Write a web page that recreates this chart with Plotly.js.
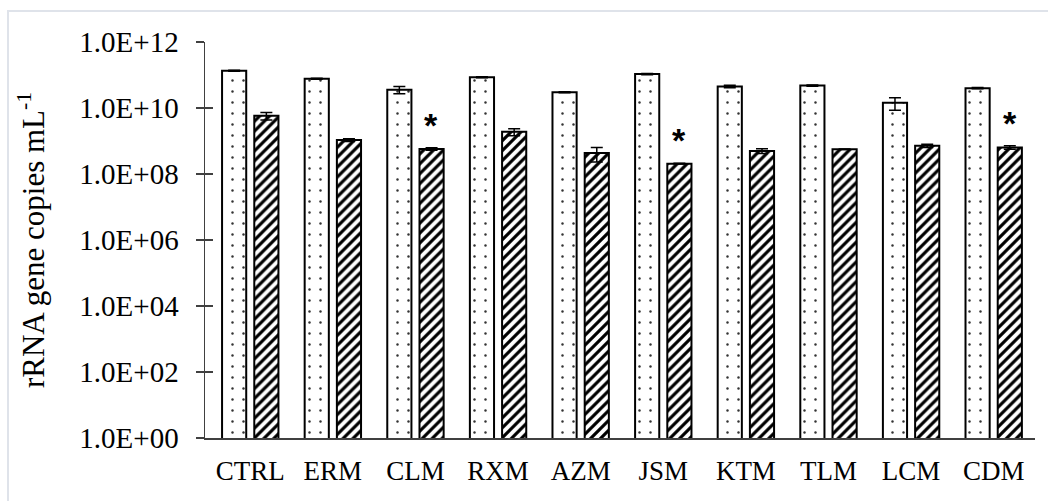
<!DOCTYPE html>
<html>
<head>
<meta charset="utf-8">
<script src="https://cdn.plot.ly/plotly-3.0.1.min.js"></script>
<style>
  html, body { margin: 0; padding: 0; background: #ffffff; overflow: hidden; }
  #chart { position: absolute; left: 0; top: 0; width: 1048px; height: 501px; }
  #frame { position: absolute; left: 7px; top: 10px; width: 1100px; height: 600px;
           border-left: 2px solid #dfe3ea; border-top: 2px solid #dfe3ea; pointer-events: none; }
</style>
</head>
<body>
<div id="chart"></div>
<div id="frame"></div>
<script>
// Treatments along the x axis
const categories = ['CTRL', 'ERM', 'CLM', 'RXM', 'AZM', 'JSM', 'KTM', 'TLM', 'LCM', 'CDM'];

// First series (dotted bars) and its error
const dottedValues = [1.35e11, 7.7e10, 3.6e10, 8.5e10, 3.0e10, 1.07e11, 4.5e10, 4.8e10, 1.45e10, 4.0e10];
const dottedErrors = [4e9, 3e9, 9e9, 3e9, 1e9, 5e9, 4e9, 2e9, 6e9, 2e9];

// Second series (hatched bars) and its error
const hatchedValues = [5.8e9, 1.07e9, 5.7e8, 1.9e9, 4.3e8, 2.05e8, 5.0e8, 5.6e8, 7.2e8, 6.4e8];
const hatchedErrors = [1.5e9, 1e8, 5e7, 4.5e8, 2e8, 5e6, 8e7, 1e7, 8e7, 8e7];

// Treatments marked as significant in the second series
const significant = ['CLM', 'JSM', 'CDM'];

// Log axis ticks
const yTickVals = [1e0, 1e2, 1e4, 1e6, 1e8, 1e10, 1e12];
const yTickText = ['1.0E+00', '1.0E+02', '1.0E+04', '1.0E+06', '1.0E+08', '1.0E+10', '1.0E+12'];

const serif = 'Liberation Serif, Times New Roman, serif';

const errStyle = { type: 'data', visible: true, color: '#000000', thickness: 1.5, width: 6 };

const traces = [
  {
    type: 'bar', x: categories, y: dottedValues,
    error_y: Object.assign({ array: dottedErrors }, errStyle),
    marker: {
      color: '#ffffff',
      line: { color: '#000000', width: 2 },
      pattern: { shape: '.', fgcolor: '#333333', bgcolor: '#ffffff', size: 11, solidity: 0.04 }
    },
    hoverinfo: 'x+y', showlegend: false
  },
  {
    type: 'bar', x: categories, y: hatchedValues,
    error_y: Object.assign({ array: hatchedErrors }, errStyle),
    marker: {
      color: '#ffffff',
      line: { color: '#000000', width: 2 },
      pattern: { shape: '/', fgcolor: '#000000', bgcolor: '#ffffff', size: 7, solidity: 0.45 }
    },
    hoverinfo: 'x+y', showlegend: false
  },
  // carries the overlaid axis that draws the inner halves of the y ticks
  {
    type: 'scatter', mode: 'markers', x: [categories[0]], y: [1], yaxis: 'y2',
    marker: { opacity: 0 }, hoverinfo: 'skip', showlegend: false
  }
];

const annotations = significant.map(function (cat) {
  const i = categories.indexOf(cat);
  return {
    x: cat, xref: 'x', yref: 'y',
    y: Math.log10(hatchedValues[i] + hatchedErrors[i]),
    text: '<b>*</b>', showarrow: false,
    xanchor: 'center', yanchor: 'bottom', xshift: 16, yshift: 2,
    font: { family: 'Liberation Sans, Arial, sans-serif', size: 34, color: '#000000' }
  };
});

const layout = {
  width: 1048, height: 501,
  margin: { l: 205, r: 13, t: 42, b: 63, autoexpand: false },
  paper_bgcolor: 'rgba(0,0,0,0)', plot_bgcolor: 'rgba(0,0,0,0)',
  barmode: 'group', bargap: 0.22, bargroupgap: 0.25,
  font: { family: serif, size: 27, color: '#000000' },
  xaxis: {
    type: 'category', showgrid: false, zeroline: false, automargin: false,
    showline: true, linecolor: '#404040', linewidth: 1.5,
    ticks: '', tickfont: { family: serif, size: 27, color: '#000000' },
    ticklabelstandoff: 8
  },
  yaxis: {
    type: 'log', range: [0, 12], showgrid: false, zeroline: false, automargin: false,
    showline: true, linecolor: '#404040', linewidth: 1.5,
    ticks: 'outside', ticklen: 8, tickwidth: 1.5, tickcolor: '#404040',
    tickvals: yTickVals, ticktext: yTickText,
    tickfont: { family: serif, size: 29, color: '#000000' },
    ticklabelstandoff: 11,
    title: { text: 'rRNA gene copies mL<sup>-1</sup>', font: { family: serif, size: 31, color: '#000000' }, standoff: 25 }
  },
  yaxis2: {
    type: 'log', range: [0, 12], overlaying: 'y', side: 'left', automargin: false,
    showgrid: false, zeroline: false, showline: false, showticklabels: false,
    ticks: 'inside', ticklen: 8, tickwidth: 1.5, tickcolor: '#404040',
    tickvals: yTickVals
  },
  annotations: annotations
};

Plotly.newPlot('chart', traces, layout, { staticPlot: true, displayModeBar: false });
</script>
</body>
</html>
